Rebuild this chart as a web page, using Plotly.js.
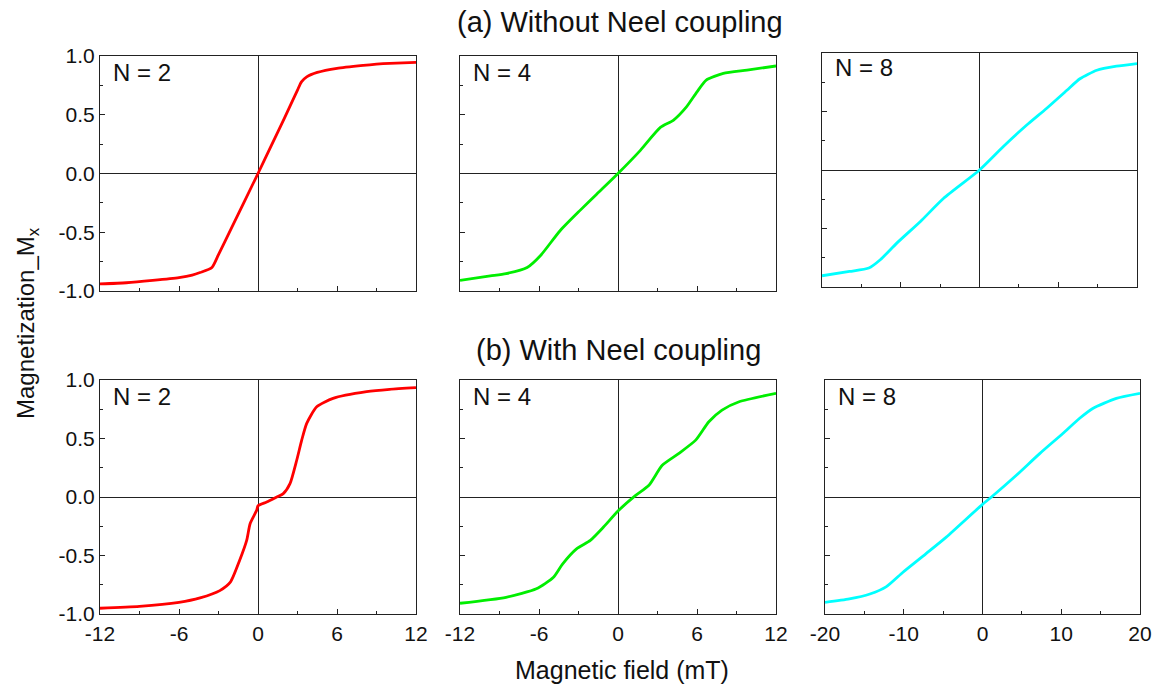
<!DOCTYPE html>
<html>
<head>
<meta charset="utf-8">
<script src="https://cdn.plot.ly/plotly-3.0.1.min.js"></script>
<style>html,body{margin:0;padding:0;background:#fff;}#chart{width:1158px;height:688px;}</style>
</head>
<body>
<div id="chart"></div>
<script>
// Panel (a) N=2
const a2_x = [-12, -10, -8, -6, -5, -4.4, -3.5, -3, -2, -1, 0, 1, 2, 3, 3.3, 3.7, 4.5, 6, 8, 9, 10, 12];
const a2_y = [-0.94, -0.93, -0.91, -0.886, -0.865, -0.843, -0.80, -0.69, -0.46, -0.23, 0, 0.235, 0.47, 0.71, 0.78, 0.823, 0.86, 0.895, 0.92, 0.93, 0.937, 0.945];
// Panel (a) N=4
const a4_x = [-12, -9.7, -8.5, -6.9, -5.9, -4.4, -2.9, -1.6, 0, 1.7, 3.2, 4.2, 5.2, 6.0, 6.7, 8.0, 9.8, 12];
const a4_y = [-0.909, -0.872, -0.852, -0.80, -0.70, -0.487, -0.316, -0.174, 0, 0.197, 0.39, 0.453, 0.567, 0.695, 0.795, 0.852, 0.88, 0.915];
// Panel (a) N=8
const a8_x = [-20, -16.5, -14.05, -12.6, -10.5, -7.5, -4.55, 0, 3.0, 6.0, 8.5, 11.1, 12.75, 14.9, 17.4, 20];
const a8_y = [-0.904, -0.867, -0.838, -0.767, -0.625, -0.44, -0.242, 0, 0.199, 0.384, 0.526, 0.682, 0.78, 0.853, 0.887, 0.91];
// Panel (b) N=2
const b2_x = [-12, -9, -6, -4.4, -2.9, -2.1, -1.4, -0.86, -0.6, -0.1, 0, 0.66, 1.42, 1.92, 2.43, 2.94, 3.32, 3.7, 4.46, 5.7, 8.25, 10, 12];
const b2_y = [-0.951, -0.935, -0.90, -0.862, -0.80, -0.728, -0.543, -0.371, -0.228, -0.114, -0.075, -0.043, 0, 0.029, 0.114, 0.314, 0.486, 0.629, 0.771, 0.843, 0.90, 0.92, 0.934];
// Panel (b) N=4
const b4_x = [-12, -8.5, -6.2, -4.9, -4.2, -3.15, -2.1, -1.1, 0, 1.34, 2.35, 3.36, 4.6, 5.9, 6.9, 7.9, 9.2, 12];
const b4_y = [-0.908, -0.857, -0.785, -0.686, -0.571, -0.443, -0.371, -0.257, -0.12, 0.014, 0.10, 0.271, 0.371, 0.486, 0.643, 0.743, 0.814, 0.886];
// Panel (b) N=8
const b8_x = [-20, -16.9, -14.3, -12.2, -10.1, -7.2, -4.6, 0, 1.14, 4.3, 7.26, 10.2, 12.3, 14.0, 17.0, 20];
const b8_y = [-0.90, -0.871, -0.829, -0.766, -0.643, -0.486, -0.343, -0.063, 0, 0.186, 0.371, 0.543, 0.671, 0.757, 0.843, 0.886];

const panelLabels = ["N = 2", "N = 4", "N = 8", "N = 2", "N = 4", "N = 8"];
const xTicks12 = [-12, -6, 0, 6, 12];
const xTicks20 = [-20, -10, 0, 10, 20];
const yTicks = [-1.0, -0.5, 0.0, 0.5, 1.0];
const titleA = "(a) Without Neel coupling";
const titleB = "(b) With Neel coupling";
const yTitle = "Magnetization_M<sub>x</sub>";
const xTitle = "Magnetic field (mT)";

const W = 1158, H = 688;
const FONT = "Liberation Sans";
const TICKSIZE = 21;
const colors = ["#ff0000", "#00ee00", "#00ffff"];

const series = [[a2_x, a2_y], [a4_x, a4_y], [a8_x, a8_y], [b2_x, b2_y], [b4_x, b4_y], [b8_x, b8_y]];
// plot-area pixel boxes [left, right, top, bottom]
const boxes = [
  [100, 416, 56, 291], [460, 776, 56, 291], [822, 1137, 53, 287],
  [100, 416, 380, 614], [460, 776, 380, 614], [825, 1140, 380, 614]
];

const data = [];
const layout = {
  width: W, height: H,
  margin: {l: 0, r: 0, t: 0, b: 0},
  paper_bgcolor: "#fff", plot_bgcolor: "#fff",
  showlegend: false,
  font: {family: FONT, color: "#111", size: TICKSIZE},
  annotations: []
};

series.forEach((s, i) => {
  const n = i + 1;
  const xa = n === 1 ? "x" : "x" + n;
  const ya = n === 1 ? "y" : "y" + n;
  data.push({
    x: s[0], y: s[1], type: "scatter", mode: "lines",
    line: {color: colors[i % 3], width: 2.8, shape: "spline", smoothing: 0.6},
    xaxis: xa, yaxis: ya, hoverinfo: "skip"
  });
  const b = boxes[i];
  const is20 = (i % 3) === 2;
  const ticks = is20 ? xTicks20 : xTicks12;
  const bottom = i >= 3;
  const left = (i % 3) === 0;
  layout["xaxis" + (n === 1 ? "" : n)] = {
    domain: [b[0] / W, b[1] / W],
    anchor: ya,
    range: is20 ? [-20, 20] : [-12, 12],
    tickvals: ticks,
    ticktext: ticks.map(String),
    showticklabels: bottom,
    ticklabelstandoff: 1,
    ticks: "inside", ticklen: 5, tickwidth: 1, tickcolor: "#222",
    minor: {ticks: "inside", ticklen: 3, tickcolor: "#222", dtick: is20 ? 5 : 3, showgrid: false},
    showgrid: false,
    zeroline: true, zerolinecolor: "#222", zerolinewidth: 1,
    showline: true, linecolor: "#222", linewidth: 1, mirror: true,
    tickfont: {family: FONT, size: TICKSIZE, color: "#111"},
    fixedrange: true
  };
  layout["yaxis" + (n === 1 ? "" : n)] = {
    domain: [1 - b[3] / H, 1 - b[2] / H],
    anchor: xa,
    range: [-1.0, 1.0],
    tickvals: yTicks,
    ticktext: yTicks.map(v => v.toFixed(1)),
    showticklabels: left,
    ticks: "inside", ticklen: 5, tickwidth: 1, tickcolor: "#222",
    minor: {ticks: "inside", ticklen: 3, tickcolor: "#222", dtick: 0.25, showgrid: false},
    showgrid: false,
    zeroline: true, zerolinecolor: "#222", zerolinewidth: 1,
    showline: true, linecolor: "#222", linewidth: 1, mirror: true,
    tickfont: {family: FONT, size: TICKSIZE, color: "#111"},
    fixedrange: true
  };
  layout.annotations.push({
    text: panelLabels[i].replace(/ /g, "\u00a0"),
    xref: xa + " domain", yref: ya + " domain",
    x: 0.035, y: i === 2 ? 0.94 : 0.928,
    xanchor: "left", yanchor: "middle",
    showarrow: false,
    font: {family: FONT, size: 24, color: "#111"}
  });
});

layout.annotations.push(
  {text: titleA, xref: "paper", yref: "paper", x: 620 / W, y: 1 - 22 / H, xanchor: "center", yanchor: "middle", showarrow: false, font: {family: FONT, size: 29, color: "#111"}},
  {text: titleB, xref: "paper", yref: "paper", x: 618 / W, y: 1 - 350 / H, xanchor: "center", yanchor: "middle", showarrow: false, font: {family: FONT, size: 29, color: "#111"}},
  {text: yTitle, xref: "paper", yref: "paper", x: 27 / W, y: 1 - 323 / H, xanchor: "center", yanchor: "middle", textangle: -90, showarrow: false, font: {family: FONT, size: 24, color: "#111"}},
  {text: xTitle, xref: "paper", yref: "paper", x: 622 / W, y: 1 - 670 / H, xanchor: "center", yanchor: "middle", showarrow: false, font: {family: FONT, size: 25, color: "#111"}}
);

Plotly.newPlot("chart", data, layout, {displayModeBar: false, staticPlot: true});
</script>
</body>
</html>
